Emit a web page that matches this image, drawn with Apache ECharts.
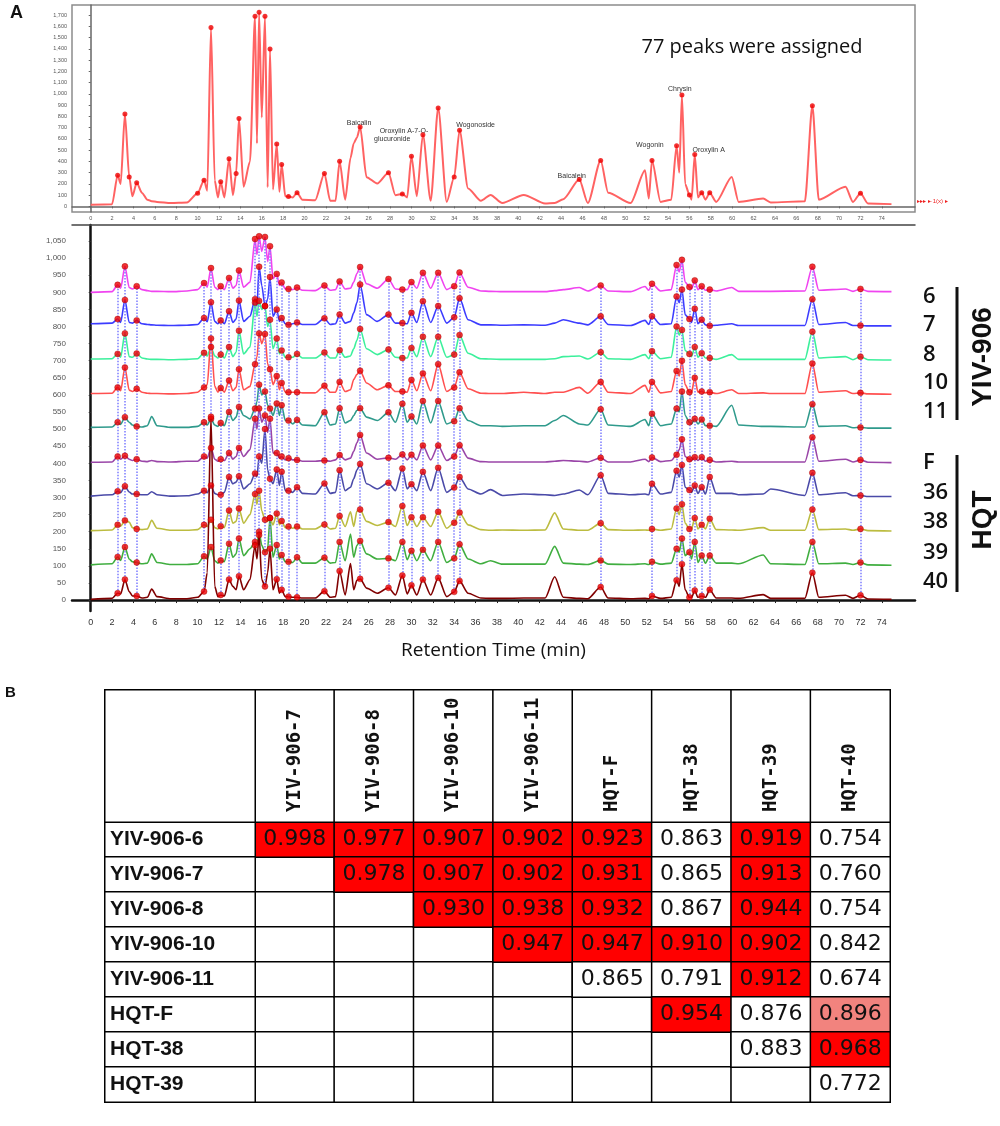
<!DOCTYPE html>
<html>
<head>
<meta charset="utf-8">
<script src="https://cdn.jsdelivr.net/npm/echarts@6/dist/echarts.min.js"></script>
<style>
html, body { margin: 0; padding: 0; background: #fff; }
#chart { width: 1000px; height: 1126px; }
</style>
</head>
<body>
<div id="chart"></div>
<script>
// retention time grid (min), shared by every trace
const T = [
    0, 2.0, 2.52, 2.8, 3.2, 3.6, 3.9, 4.3, 4.8, 5.3,
    5.7, 6.2, 7.5, 9.0, 10.0, 10.6, 10.9, 11.25, 11.6, 11.9,
    12.16, 12.5, 12.94, 13.3, 13.6, 13.87, 14.3, 14.9, 15.37, 15.55,
    15.75, 16.0, 16.3, 16.55, 16.77, 17.05, 17.4, 17.65, 17.86, 18.2,
    18.5, 18.9, 19.3, 19.8, 21.0, 21.86, 22.4, 22.9, 23.28, 23.8,
    24.3, 24.6, 24.9, 25.2, 25.8, 26.8, 27.85, 28.5, 29.15, 29.6,
    30.0, 30.5, 31.07, 31.8, 32.5, 33.3, 34.0, 34.5, 35.3, 36.5,
    37.4, 38.5, 40.5, 42.5, 43.4, 44.2, 45.7, 46.5, 47.7, 48.4,
    50.5, 51.85, 52.2, 52.5, 53.3, 54.3, 54.8, 55.05, 55.3, 55.6,
    56.0, 56.2, 56.5, 56.8, 57.15, 57.5, 57.9, 58.5, 59.96, 60.6,
    62.9, 63.6, 66.8, 67.5, 68.1, 70.6, 71.3, 72.0, 72.7, 74.9
];

// panel A top: reference chromatogram
const topTrace = [
    15, 20, 277, 200, 822, 262, 90, 210, 120, 60,
    45, 40, 30, 35, 117, 233, 140, 1589, 230, 80,
    219, 80, 423, 100, 292, 781, 175, 400, 1691, 560,
    1726, 790, 1691, 170, 1400, 150, 554, 130, 373, 90,
    87, 80, 122, 60, 55, 292, 50, 50, 402, 60,
    430, 560, 612, 706, 260, 204, 300, 100, 111, 80,
    446, 90, 636, 50, 875, 40, 262, 676, 160, 50,
    102, 30, 102, 25, 30, 64, 239, 30, 408, 122,
    30, 321, 70, 408, 40, 60, 539, 300, 991, 200,
    102, 60, 461, 80, 122, 60, 122, 40, 262, 40,
    70, 35, 45, 895, 60, 175, 40, 117, 25, 20
];
const topPeakTimes = [2.52, 3.2, 3.6, 4.3, 10.0, 10.6, 11.25, 12.16, 12.94, 13.6, 13.87, 15.37, 15.75, 16.3,
    16.77, 17.4, 17.86, 18.5, 19.3, 21.86, 23.28, 25.2, 27.85, 29.15, 30.0, 31.07, 32.5, 34.0, 34.5,
    45.7, 47.7, 52.5, 54.8, 55.3, 56.0, 56.5, 57.15, 57.9, 67.5, 72.0];

const compoundNames = ['Baicalin', 'Oroxylin A-7-O-', 'glucuronide', 'Wogonoside', 'Baicalein', 'Wogonin', 'Chrysin', 'Oroxylin A'];
const compoundTimes = [25.1, 29.3, 28.2, 36.0, 45.0, 52.3, 55.1, 57.8];
const compoundLevels = [745, 670, 600, 725, 272, 547, 1043, 503];

// panel A bottom: stacked samples (height above own baseline)
const tr6 = [
    0, 2, 22, 12, 76, 14, 10, 18, 8, 5,
    3, 3, 2, 4, 8, 27, 15, 71, 15, 8,
    18, 8, 42, 12, 20, 64, 15, 30, 156, 110,
    164, 120, 162, 90, 135, 40, 54, 20, 29, 10,
    10, 8, 14, 6, 5, 20, 6, 8, 32, 10,
    12, 30, 55, 74, 25, 12, 39, 10, 8, 8,
    30, 12, 57, 12, 57, 8, 18, 58, 15, 4,
    3, 2, 2, 2, 5, 8, 14, 4, 20, 4,
    2, 17, 6, 25, 4, 8, 80, 60, 95, 30,
    16, 10, 35, 8, 18, 6, 8, 4, 14, 3,
    3, 3, 4, 75, 6, 10, 3, 10, 3, 2
];
const tr7 = [
    8, 10, 22, 12, 78, 12, 10, 18, 8, 6,
    5, 4, 3, 4, 6, 25, 14, 71, 15, 8,
    18, 8, 45, 12, 22, 76, 15, 30, 80, 60,
    175, 120, 60, 80, 145, 30, 50, 15, 25, 8,
    5, 8, 12, 6, 6, 24, 6, 8, 35, 10,
    15, 40, 70, 123, 35, 15, 35, 10, 10, 8,
    40, 12, 74, 12, 60, 10, 27, 83, 20, 5,
    5, 4, 5, 4, 10, 20, 10, 5, 30, 6,
    3, 18, 6, 30, 6, 8, 88, 70, 108, 35,
    22, 12, 52, 8, 20, 5, 2, 4, 8, 3,
    3, 3, 3, 80, 6, 12, 3, 3, 2, 2
];
const tr8 = [
    5, 6, 20, 10, 80, 12, 10, 21, 8, 5,
    4, 4, 3, 4, 6, 23, 14, 40, 14, 8,
    18, 8, 40, 12, 25, 88, 20, 40, 170, 130,
    175, 150, 160, 100, 120, 35, 65, 20, 30, 10,
    10, 10, 20, 8, 8, 24, 8, 8, 31, 10,
    14, 35, 60, 93, 35, 18, 33, 10, 8, 8,
    37, 12, 70, 12, 70, 10, 18, 75, 22, 6,
    5, 4, 4, 4, 6, 12, 14, 5, 25, 6,
    4, 18, 6, 28, 6, 10, 100, 75, 90, 30,
    20, 12, 40, 10, 22, 8, 8, 4, 18, 4,
    4, 4, 4, 85, 8, 12, 3, 12, 3, 2
];
const tr10 = [
    4, 5, 22, 12, 80, 14, 10, 18, 8, 5,
    4, 4, 3, 4, 8, 22, 30, 165, 25, 8,
    20, 8, 42, 12, 22, 75, 15, 25, 90, 110,
    180, 150, 178, 90, 75, 30, 55, 15, 35, 8,
    8, 8, 8, 6, 6, 27, 8, 8, 38, 10,
    15, 45, 60, 71, 35, 15, 28, 10, 10, 8,
    44, 12, 63, 12, 90, 10, 22, 66, 18, 5,
    4, 4, 8, 4, 8, 8, 22, 5, 38, 8,
    4, 28, 8, 38, 6, 10, 70, 55, 100, 30,
    8, 8, 50, 8, 10, 6, 8, 4, 15, 4,
    6, 4, 4, 92, 8, 12, 4, 6, 3, 2
];
const tr11 = [
    5, 6, 20, 14, 35, 20, 12, 8, 6, 10,
    37, 10, 5, 5, 8, 20, 12, 30, 12, 8,
    18, 10, 50, 25, 35, 65, 40, 30, 60, 80,
    130, 100, 110, 70, 60, 40, 75, 40, 70, 25,
    25, 15, 27, 12, 10, 49, 12, 15, 61, 18,
    25, 40, 55, 61, 35, 25, 49, 20, 74, 20,
    37, 15, 82, 18, 82, 15, 23, 61, 25, 10,
    10, 8, 10, 10, 25, 40, 15, 12, 58, 12,
    8, 28, 10, 45, 10, 15, 60, 50, 110, 40,
    20, 15, 30, 15, 28, 10, 10, 8, 70, 12,
    8, 8, 6, 73, 8, 10, 4, 5, 3, 3
];
const trF = [
    3, 4, 20, 12, 22, 12, 8, 12, 6, 5,
    8, 5, 4, 6, 6, 20, 15, 45, 12, 6,
    12, 8, 30, 12, 20, 45, 20, 40, 130, 100,
    160, 120, 140, 90, 130, 30, 30, 15, 20, 10,
    15, 10, 10, 6, 6, 8, 6, 10, 24, 10,
    15, 35, 60, 83, 30, 12, 16, 12, 26, 10,
    25, 10, 52, 10, 52, 8, 20, 53, 15, 5,
    4, 4, 4, 4, 6, 8, 6, 4, 16, 4,
    4, 12, 5, 17, 5, 8, 25, 40, 70, 20,
    12, 8, 18, 8, 18, 6, 10, 4, 6, 4,
    4, 4, 4, 76, 6, 12, 4, 10, 3, 2
];
const tr36 = [
    4, 8, 18, 14, 33, 16, 10, 10, 8, 8,
    17, 8, 4, 5, 10, 20, 14, 35, 12, 8,
    8, 15, 60, 40, 45, 62, 25, 40, 70, 60,
    120, 100, 200, 80, 55, 40, 82, 35, 75, 20,
    20, 15, 30, 12, 10, 41, 12, 15, 80, 20,
    30, 55, 80, 98, 40, 25, 43, 20, 85, 25,
    39, 20, 75, 20, 87, 15, 29, 60, 25, 10,
    23, 6, 10, 8, 6, 10, 22, 8, 65, 12,
    8, 10, 8, 40, 10, 15, 78, 60, 95, 30,
    22, 15, 35, 12, 30, 10, 60, 12, 12, 8,
    10, 25, 6, 72, 8, 14, 5, 6, 3, 3
];
const tr38 = [
    3, 5, 20, 16, 33, 28, 12, 8, 6, 8,
    33, 10, 4, 4, 6, 20, 15, 35, 12, 8,
    16, 12, 62, 25, 30, 68, 25, 50, 110, 80,
    120, 60, 35, 30, 40, 20, 53, 20, 31, 12,
    15, 10, 15, 8, 8, 21, 8, 10, 46, 15,
    58, 15, 60, 65, 30, 18, 28, 15, 75, 18,
    42, 15, 42, 15, 58, 10, 26, 56, 20, 6,
    4, 5, 4, 5, 55, 8, 4, 4, 25, 6,
    4, 5, 4, 8, 4, 8, 68, 50, 80, 25,
    8, 8, 40, 8, 20, 8, 38, 6, 5, 4,
    12, 4, 4, 65, 6, 8, 4, 8, 3, 2
];
const tr39 = [
    3, 6, 26, 16, 55, 20, 12, 10, 6, 8,
    35, 10, 4, 4, 6, 28, 20, 55, 15, 8,
    16, 12, 65, 25, 35, 80, 30, 50, 70, 60,
    100, 60, 40, 50, 140, 25, 61, 20, 32, 12,
    12, 10, 25, 8, 8, 24, 8, 10, 70, 15,
    93, 25, 60, 73, 35, 20, 22, 15, 70, 18,
    44, 15, 47, 15, 70, 10, 22, 63, 20, 6,
    15, 5, 5, 5, 57, 8, 5, 4, 16, 5,
    4, 6, 4, 12, 5, 8, 50, 40, 80, 30,
    40, 20, 70, 10, 30, 8, 30, 8, 8, 6,
    32, 6, 4, 70, 6, 8, 4, 10, 3, 2
];
const tr40 = [
    2, 5, 20, 18, 60, 25, 12, 12, 6, 8,
    32, 10, 4, 4, 8, 25, 80, 536, 40, 10,
    15, 12, 60, 40, 30, 70, 30, 60, 160, 120,
    190, 60, 40, 80, 150, 30, 61, 20, 30, 10,
    10, 8, 8, 6, 6, 26, 8, 10, 85, 15,
    107, 30, 58, 62, 35, 20, 36, 15, 72, 18,
    43, 15, 60, 15, 65, 10, 24, 56, 20, 6,
    5, 5, 6, 6, 68, 8, 5, 4, 38, 6,
    4, 5, 4, 12, 5, 8, 58, 40, 105, 30,
    8, 8, 28, 8, 12, 8, 30, 6, 6, 5,
    16, 5, 5, 80, 8, 14, 5, 14, 3, 2
];
const traceNames = ['6', '7', '8', '10', '11', 'F', '36', '38', '39', '40'];
const traceOffsets = [900, 800, 700, 600, 500, 400, 300, 200, 100, 0];
const traceColors = ['#f044f0', '#3c3cff', '#3cf09c', '#ff5050', '#2f9a8c', '#9a46a8', '#4a4aa8', '#bcbc40', '#40ae40', '#800000'];
const traces = [tr6, tr7, tr8, tr10, tr11, trF, tr36, tr38, tr39, tr40];
const peakTimes = [2.52, 3.2, 4.3, 10.6, 11.25, 12.16, 12.94, 13.87, 15.37, 15.75, 16.3, 16.77, 17.4, 17.86,
    18.5, 19.3, 21.86, 23.28, 25.2, 27.85, 29.15, 30.0, 31.07, 32.5, 34.0, 34.5, 47.7, 52.5,
    54.8, 55.3, 56.0, 56.5, 57.15, 57.9, 67.5, 72.0];

const xTicks = [0, 2, 4, 6, 8, 10, 12, 14, 16, 18, 20, 22, 24, 26, 28, 30, 32, 34, 36, 38,
    40, 42, 44, 46, 48, 50, 52, 54, 56, 58, 60, 62, 64, 66, 68, 70, 72, 74];
const topYTicks = [0, 100, 200, 300, 400, 500, 600, 700, 800, 900, 1000, 1100, 1200, 1300, 1400, 1500, 1600, 1700];
const bottomYTicks = [0, 50, 100, 150, 200, 250, 300, 350, 400, 450, 500, 550, 600, 650, 700, 750, 800, 850, 900, 950, 1000, 1050];

// panel B: similarity table
const colNames = ['YIV-906-7', 'YIV-906-8', 'YIV-906-10', 'YIV-906-11', 'HQT-F', 'HQT-38', 'HQT-39', 'HQT-40'];
const rowNames = ['YIV-906-6', 'YIV-906-7', 'YIV-906-8', 'YIV-906-10', 'YIV-906-11', 'HQT-F', 'HQT-38', 'HQT-39'];
const simRows = [
    [0.998, 0.977, 0.907, 0.902, 0.923, 0.863, 0.919, 0.754],
    [null, 0.978, 0.907, 0.902, 0.931, 0.865, 0.913, 0.760],
    [null, null, 0.930, 0.938, 0.932, 0.867, 0.944, 0.754],
    [null, null, null, 0.947, 0.947, 0.910, 0.902, 0.842],
    [null, null, null, null, 0.865, 0.791, 0.912, 0.674],
    [null, null, null, null, null, 0.954, 0.876, 0.896],
    [null, null, null, null, null, null, 0.883, 0.968],
    [null, null, null, null, null, null, null, 0.772]
];

function idxOf(t) {
    return T.findIndex(x => Math.abs(x - t) < 1e-6);
}
function comma(v) {
    return v >= 1000 ? Math.floor(v / 1000) + ',' + String(v % 1000).padStart(3, '0') : String(v);
}

const chart = echarts.init(document.getElementById('chart'));

const series = [];
// top chromatogram
series.push({
    type: 'line', xAxisIndex: 0, yAxisIndex: 0,
    data: T.map((t, i) => [t, topTrace[i]]),
    showSymbol: false, smooth: 0.25, smoothMonotone: 'x',
    lineStyle: { color: '#ff6262', width: 2 },
    markPoint: {
        symbol: 'circle', symbolSize: 0, silent: true,
        label: { show: true, position: 'inside', formatter: '{b}', fontSize: 7, color: '#333', fontFamily: 'Liberation Sans' },
        data: compoundNames.map((n, i) => ({ name: n, coord: [compoundTimes[i], compoundLevels[i]] }))
    }
});
series.push({
    type: 'scatter', xAxisIndex: 0, yAxisIndex: 0, z: 5,
    data: topPeakTimes.map(t => [t, topTrace[idxOf(t)]]),
    symbolSize: 5, itemStyle: { color: '#ee0000' }
});

// stacked chromatograms
traces.forEach((tr, k) => {
    const s = {
        type: 'line', name: traceNames[k], xAxisIndex: 1, yAxisIndex: 1,
        data: T.map((t, i) => [t, traceOffsets[k] + tr[i]]),
        showSymbol: false, smooth: 0.25, smoothMonotone: 'x',
        lineStyle: { color: traceColors[k], width: 1.6 }
    };
    if (k === 0) {
        s.markLine = {
            silent: true, symbol: 'none', label: { show: false },
            lineStyle: { color: '#7c7cff', type: 'dotted', width: 1.5 },
            data: peakTimes.map(t => {
                const i = idxOf(t);
                return [{ coord: [t, traceOffsets[9] + tr40[i]] }, { coord: [t, traceOffsets[0] + tr6[i]] }];
            })
        };
    }
    series.push(s);
});
const markerData = [];
traces.forEach((tr, k) => {
    peakTimes.forEach(t => markerData.push([t, traceOffsets[k] + tr[idxOf(t)]]));
});
series.push({
    type: 'scatter', xAxisIndex: 1, yAxisIndex: 1, z: 6,
    data: markerData, symbolSize: 6,
    itemStyle: { color: '#ee0000', borderColor: '#a00000', borderWidth: 0.5 }
});

// table
const cellBorder = { borderColor: '#000', borderWidth: 1.5 };
const blankCells = [];
colNames.forEach((c, i) => rowNames.forEach((r, j) => blankCells.push([i, j, 0])));
series.push({
    type: 'heatmap', xAxisIndex: 3, yAxisIndex: 2, data: blankCells,
    itemStyle: Object.assign({ color: '#fff' }, cellBorder), silent: true
});
const simCells = [];
simRows.forEach((row, j) => row.forEach((v, i) => { if (v !== null) simCells.push([i, j, v]); }));
const simSeriesIndex = series.length;
series.push({
    type: 'heatmap', xAxisIndex: 3, yAxisIndex: 2, data: simCells,
    itemStyle: cellBorder, silent: true,
    label: {
        show: true, formatter: p => p.value[2].toFixed(3),
        fontSize: 22, fontFamily: 'DejaVu Sans', color: '#111'
    }
});
series.push({
    type: 'heatmap', xAxisIndex: 4, yAxisIndex: 3, data: colNames.map((c, i) => [i, 0, 0]),
    itemStyle: Object.assign({ color: '#fff' }, cellBorder), silent: true
});
series.push({
    type: 'heatmap', xAxisIndex: 5, yAxisIndex: 4, data: rowNames.map((r, j) => [0, j, 0]),
    itemStyle: Object.assign({ color: '#fff' }, cellBorder), silent: true
});
series.push({
    type: 'heatmap', xAxisIndex: 6, yAxisIndex: 5, data: [[0, 0, 0]],
    itemStyle: Object.assign({ color: '#fff' }, cellBorder), silent: true
});

const hidden = { show: false };
const labelFont = 'Liberation Sans';

chart.setOption({
    animation: false,
    backgroundColor: '#fff',
    grid: [
        { left: 72, top: 5, width: 843, height: 207, show: true, borderColor: '#8c8c8c', borderWidth: 1.5 },
        { left: 72, top: 225, width: 843, height: 386 },
        { left: 255, top: 822, width: 635, height: 280 },
        { left: 255, top: 690, width: 635, height: 132 },
        { left: 105, top: 822, width: 150, height: 280 },
        { left: 105, top: 690, width: 150, height: 132 }
    ],
    xAxis: [
        {
            type: 'value', gridIndex: 0, min: -1.75, max: 77.1,
            axisLine: { lineStyle: { color: '#666', width: 1.5 } },
            axisTick: { show: true, customValues: xTicks, length: 2, lineStyle: { color: '#666' } },
            axisLabel: { customValues: xTicks, fontSize: 5.5, color: '#555', margin: 3 },
            splitLine: hidden
        },
        {
            type: 'value', gridIndex: 1, min: -1.75, max: 77.1,
            axisLine: { lineStyle: { color: '#111', width: 2.5 } },
            axisTick: { show: true, customValues: xTicks, length: 3, lineStyle: { color: '#222' } },
            axisLabel: { customValues: xTicks, fontSize: 9, color: '#333', margin: 7, fontFamily: labelFont },
            splitLine: hidden,
            name: 'Retention Time (min)', nameLocation: 'middle', nameGap: 30,
            nameTextStyle: { fontSize: 19, color: '#111', fontFamily: 'Open Sans' }
        },
        {
            type: 'value', gridIndex: 1, position: 'top', min: -1.75, max: 77.1,
            axisLine: { lineStyle: { color: '#444', width: 1.5 } },
            axisTick: hidden, axisLabel: hidden, splitLine: hidden
        },
        {
            type: 'category', gridIndex: 2, data: colNames, position: 'top', z: 10,
            axisLine: hidden, axisTick: hidden, splitLine: hidden,
            axisLabel: {
                interval: 0, rotate: -90, margin: 10, fontSize: 19, fontWeight: 'bold',
                fontFamily: 'DejaVu Sans Mono', color: '#111'
            }
        },
        { type: 'category', gridIndex: 3, data: colNames, show: false },
        { type: 'category', gridIndex: 4, data: [''], show: false },
        { type: 'category', gridIndex: 5, data: [''], show: false }
    ],
    yAxis: [
        {
            type: 'value', gridIndex: 0, min: -50, max: 1790,
            axisLine: { show: true, lineStyle: { color: '#666', width: 1.5 } },
            axisTick: { show: true, customValues: topYTicks, length: 2, lineStyle: { color: '#666' } },
            axisLabel: { customValues: topYTicks, fontSize: 5.5, color: '#555', margin: 5, formatter: comma },
            splitLine: hidden
        },
        {
            type: 'value', gridIndex: 1, min: -32, max: 1097,
            axisLine: { show: true, lineStyle: { color: '#111', width: 2.5 } },
            axisTick: { show: true, customValues: bottomYTicks, length: 2, lineStyle: { color: '#333' } },
            axisLabel: { customValues: bottomYTicks, fontSize: 8, color: '#555', margin: 6, formatter: comma, fontFamily: labelFont },
            splitLine: hidden
        },
        {
            type: 'category', gridIndex: 2, data: rowNames, inverse: true, z: 10,
            axisLine: hidden, axisTick: hidden, splitLine: hidden,
            axisLabel: { interval: 0, align: 'left', margin: 145, fontSize: 21, fontWeight: 'bold', fontFamily: labelFont, color: '#111' }
        },
        { type: 'category', gridIndex: 3, data: [''], show: false },
        { type: 'category', gridIndex: 4, data: rowNames, inverse: true, show: false },
        { type: 'category', gridIndex: 5, data: [''], show: false }
    ],
    visualMap: {
        type: 'piecewise', show: false, seriesIndex: simSeriesIndex, dimension: 2,
        pieces: [
            { gte: 0.9, color: '#ff0000' },
            { gte: 0.89, lt: 0.9, color: '#f2837e' },
            { lt: 0.89, color: '#ffffff' }
        ]
    },
    graphic: [
        { type: 'text', left: 10, top: 4, style: { text: 'A', font: 'bold 18px Liberation Sans', fill: '#111' } },
        { type: 'text', left: 5, top: 685, style: { text: 'B', font: 'bold 15px Liberation Sans', fill: '#111' } },
        { type: 'text', x: 752, y: 47, style: { text: '77 peaks were assigned', font: '20px Open Sans', fill: '#111', align: 'center', verticalAlign: 'middle' } },
        { type: 'text', x: 917, y: 201, style: { text: '▸▸▸ ▸·1(x) ▸', font: '6px Liberation Sans', fill: '#ee2222', verticalAlign: 'middle' } },
        { type: 'text', x: 923, y: 297, style: { text: '6', font: '600 22px Open Sans', fill: '#111', verticalAlign: 'middle' } },
        { type: 'text', x: 923, y: 325, style: { text: '7', font: '600 22px Open Sans', fill: '#111', verticalAlign: 'middle' } },
        { type: 'text', x: 923, y: 355, style: { text: '8', font: '600 22px Open Sans', fill: '#111', verticalAlign: 'middle' } },
        { type: 'text', x: 923, y: 383, style: { text: '10', font: '600 22px Open Sans', fill: '#111', verticalAlign: 'middle' } },
        { type: 'text', x: 923, y: 412, style: { text: '11', font: '600 22px Open Sans', fill: '#111', verticalAlign: 'middle' } },
        { type: 'text', x: 923, y: 463, style: { text: 'F', font: '600 22px Open Sans', fill: '#111', verticalAlign: 'middle' } },
        { type: 'text', x: 923, y: 493, style: { text: '36', font: '600 22px Open Sans', fill: '#111', verticalAlign: 'middle' } },
        { type: 'text', x: 923, y: 522, style: { text: '38', font: '600 22px Open Sans', fill: '#111', verticalAlign: 'middle' } },
        { type: 'text', x: 923, y: 553, style: { text: '39', font: '600 22px Open Sans', fill: '#111', verticalAlign: 'middle' } },
        { type: 'text', x: 923, y: 582, style: { text: '40', font: '600 22px Open Sans', fill: '#111', verticalAlign: 'middle' } },
        { type: 'rect', shape: { x: 955.5, y: 287, width: 3, height: 133 }, style: { fill: '#111' } },
        { type: 'rect', shape: { x: 955.5, y: 455, width: 3, height: 137 }, style: { fill: '#111' } },
        { type: 'text', x: 983, y: 357, rotation: Math.PI / 2, style: { text: 'YIV-906', font: 'bold 28px Liberation Sans', fill: '#111', align: 'center', verticalAlign: 'middle' } },
        { type: 'text', x: 983, y: 520, rotation: Math.PI / 2, style: { text: 'HQT', font: 'bold 28px Liberation Sans', fill: '#111', align: 'center', verticalAlign: 'middle' } }
    ],
    series: series
});
</script>
</body>
</html>
